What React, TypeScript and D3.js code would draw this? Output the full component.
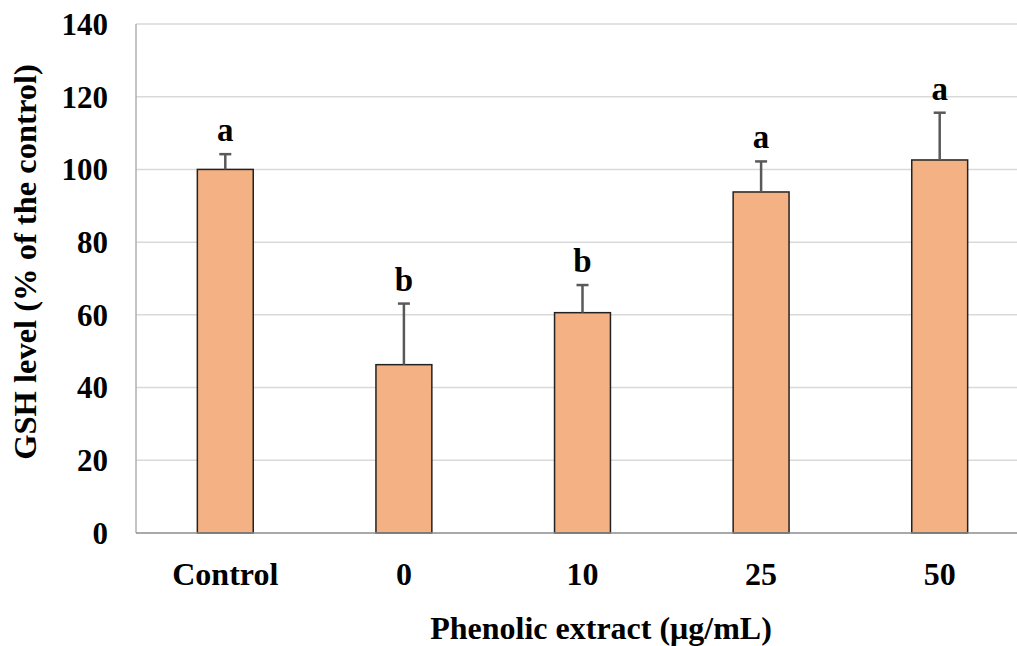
import { useEffect, useRef } from "react";
import * as d3 from "d3";

const categories = ["Control", "0", "10", "25", "50"];
const means = [100, 46.3, 60.6, 93.8, 102.6];
const errors = [4.2, 16.8, 7.6, 8.4, 13.0];
const letters = ["a", "b", "b", "a", "a"];
const yTicks = [0, 20, 40, 60, 80, 100, 120, 140];

const W = 1017,
  H = 646;
const font = "Liberation Serif, Times New Roman, Times, serif";

function draw(el: SVGSVGElement) {
  const svg = d3.select(el);
  svg.selectAll("*").remove();

  const left = 136,
    right = 1029,
    top = 24,
    bottom = 533;

  const x = d3.scaleBand().domain(categories).range([left, right]).paddingInner(0.687).paddingOuter(0.3435);
  const y = d3.scaleLinear().domain([0, 140]).range([bottom, top]);

  svg
    .append("g")
    .selectAll("line")
    .data(yTicks.filter((t) => t > 0))
    .join("line")
    .attr("x1", left)
    .attr("x2", right)
    .attr("y1", (d) => y(d))
    .attr("y2", (d) => y(d))
    .attr("stroke", "#d9d9d9")
    .attr("stroke-width", 1.5);

  svg.append("line").attr("x1", left).attr("x2", left).attr("y1", top).attr("y2", bottom).attr("stroke", "#b0b0b0").attr("stroke-width", 1.5);

  svg
    .append("g")
    .selectAll("rect")
    .data(categories)
    .join("rect")
    .attr("x", (d) => x(d)!)
    .attr("width", x.bandwidth())
    .attr("y", (d, i) => y(means[i]))
    .attr("height", (d, i) => y(0) - y(means[i]))
    .attr("fill", "#F4B183")
    .attr("stroke", "#222")
    .attr("stroke-width", 1.5);

  svg.append("line").attr("x1", left).attr("x2", right).attr("y1", bottom).attr("y2", bottom).attr("stroke", "#8c8c8c").attr("stroke-width", 1.5);

  const eb = svg.append("g").attr("stroke", "#595959").attr("stroke-width", 2.5);
  categories.forEach((c, i) => {
    const cx = x(c)! + x.bandwidth() / 2;
    eb.append("line").attr("x1", cx).attr("x2", cx).attr("y1", y(means[i])).attr("y2", y(means[i] + errors[i]));
    eb.append("line").attr("x1", cx - 6).attr("x2", cx + 6).attr("y1", y(means[i] + errors[i])).attr("y2", y(means[i] + errors[i]));
  });

  const txt = (g: d3.Selection<any, any, any, any>, size: number) =>
    g.style("font-family", font).style("font-weight", "bold").style("font-size", `${size}px`).attr("fill", "#000");

  txt(
    svg
      .append("g")
      .selectAll("text")
      .data(categories)
      .join("text")
      .attr("x", (d) => x(d)! + x.bandwidth() / 2)
      .attr("y", (d, i) => y(means[i] + errors[i]) - 13)
      .attr("text-anchor", "middle")
      .text((d, i) => letters[i]),
    33
  );

  txt(
    svg
      .append("g")
      .selectAll("text")
      .data(yTicks)
      .join("text")
      .attr("x", 108)
      .attr("y", (d) => y(d))
      .attr("dy", "0.35em")
      .attr("text-anchor", "end")
      .text((d) => d),
    31
  );

  txt(
    svg
      .append("g")
      .selectAll("text")
      .data(categories)
      .join("text")
      .attr("x", (d) => x(d)! + x.bandwidth() / 2)
      .attr("y", 585)
      .attr("text-anchor", "middle")
      .text((d) => d),
    32
  );

  txt(svg.append("text").attr("x", 601).attr("y", 639).attr("text-anchor", "middle").text("Phenolic extract (μg/mL)"), 32);

  txt(
    svg
      .append("text")
      .attr("transform", `translate(36,262) rotate(-90)`)
      .attr("text-anchor", "middle")
      .text("GSH level (% of the control)"),
    32.5
  );
}

export default function App() {
  const ref = useRef<SVGSVGElement>(null);
  useEffect(() => {
    if (ref.current) draw(ref.current);
  }, []);
  return <svg ref={ref} width={W} height={H} style={{ position: "absolute", left: 0, top: 0, background: "#fff" }} />;
}
